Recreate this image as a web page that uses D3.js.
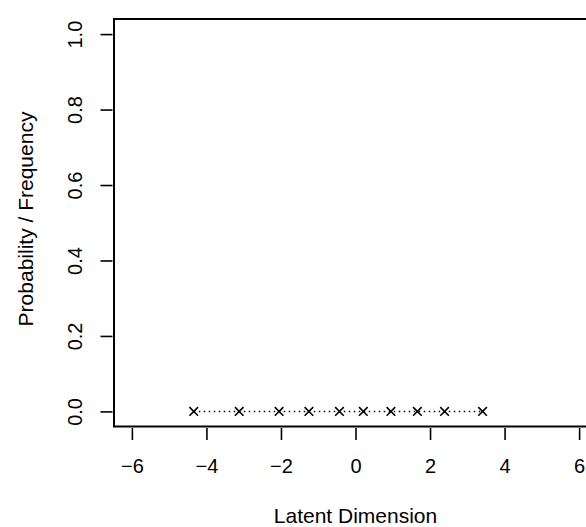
<!DOCTYPE html>
<html>
<head>
<meta charset="utf-8">
<script src="https://cdn.jsdelivr.net/npm/d3@7"></script>
<style>
  body { margin: 0; background: #fff; }
  svg { display: block; font-family: "Liberation Sans", Arial, sans-serif; }
</style>
</head>
<body>
<div id="chart"></div>
<script>
const pointX = [-4.34, -3.12, -2.05, -1.25, -0.43, 0.21, 0.95, 1.66, 2.39, 3.41];
const pointY = [0, 0, 0, 0, 0, 0, 0, 0, 0, 0];
const xTicks = [-6, -4, -2, 0, 2, 4, 6];
const yTicks = [0, 0.2, 0.4, 0.6, 0.8, 1.0];
const xLabel = 'Latent Dimension';
const yLabel = 'Probability / Frequency';

const width = 586, height = 527;
const plot = {left: 114, right: 597, top: 19, bottom: 426.5};
const tickFont = 20;
const labelFont = 21;

const svg = d3.select('#chart').append('svg')
  .attr('width', width)
  .attr('height', height);

// R style: limits padded by 4%
const x = d3.scaleLinear().domain([-6.48, 6.48]).range([plot.left, plot.right]);
const y = d3.scaleLinear().domain([-0.04, 1.04]).range([plot.bottom, plot.top]);

// x axis
const xAxis = svg.append('g')
  .attr('transform', 'translate(0,' + (plot.bottom + 1.5) + ')')
  .call(d3.axisBottom(x).tickValues(xTicks).tickSize(12).tickSizeOuter(0));
xAxis.select('.domain').remove();
xAxis.selectAll('line').attr('stroke', '#000').attr('stroke-width', 1.6);
xAxis.selectAll('text')
  .attr('y', 45).attr('dy', null)
  .attr('fill', '#000')
  .style('font-size', tickFont + 'px');

// y axis
const yAxis = svg.append('g')
  .attr('transform', 'translate(' + (plot.left - 1.5) + ',0)')
  .call(d3.axisLeft(y).tickValues(yTicks).tickFormat(d3.format('.1f')).tickSize(12).tickSizeOuter(0));
yAxis.select('.domain').remove();
yAxis.selectAll('line').attr('stroke', '#000').attr('stroke-width', 1.6);
yAxis.selectAll('text')
  .attr('x', null).attr('dy', null)
  .attr('transform', 'translate(-30.5,0) rotate(-90)')
  .attr('text-anchor', 'middle')
  .attr('fill', '#000')
  .style('font-size', tickFont + 'px');

// plot box
svg.append('rect')
  .attr('x', plot.left)
  .attr('y', plot.top)
  .attr('width', plot.right - plot.left)
  .attr('height', plot.bottom - plot.top)
  .attr('fill', 'none')
  .attr('stroke', '#000')
  .attr('stroke-width', 2);

// titles
svg.append('text')
  .attr('x', 355.5)
  .attr('y', 523)
  .attr('text-anchor', 'middle')
  .style('font-size', labelFont + 'px')
  .text(xLabel);

svg.append('text')
  .attr('transform', 'translate(33,219) rotate(-90)')
  .attr('text-anchor', 'middle')
  .style('font-size', labelFont + 'px')
  .text(yLabel);

// dotted connecting line
const points = pointX.map((v, i) => [v, pointY[i]]);
svg.append('path')
  .datum(points)
  .attr('fill', 'none')
  .attr('stroke', '#000')
  .attr('stroke-width', 1.5)
  .attr('stroke-dasharray', '1.5,3.5')
  .attr('d', d3.line().x(d => x(d[0])).y(d => y(d[1])));

// x markers
const s = 4.3;
svg.append('g').selectAll('path')
  .data(points)
  .join('path')
  .attr('fill', 'none')
  .attr('stroke', '#000')
  .attr('stroke-width', 1.6)
  .attr('d', d => {
    const cx = x(d[0]), cy = y(d[1]);
    return 'M' + (cx - s) + ',' + (cy - s) + 'L' + (cx + s) + ',' + (cy + s) +
      'M' + (cx - s) + ',' + (cy + s) + 'L' + (cx + s) + ',' + (cy - s);
  });
</script>
</body>
</html>
